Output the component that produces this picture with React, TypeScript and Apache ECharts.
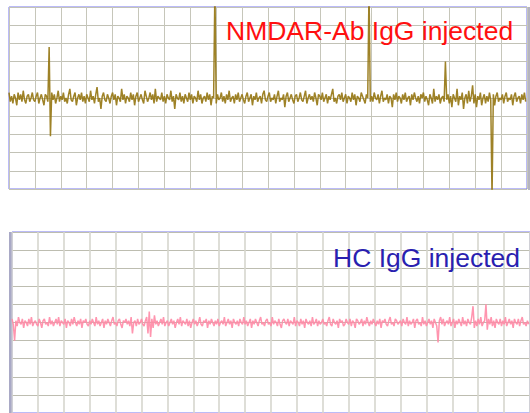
import React, { useEffect, useRef } from "react";
import * as echarts from "echarts";

// EEG-like trace values, in tenths of a grid division (400 samples, 20 per column)
const nmdarTrace: number[] = [
  3,-2,1,-3,2,0,-4,3,-1,2,-2,4,-1,-3,1,2,-2,0,3,-1,
  -2,1,3,-3,0,2,-1,-4,2,1,-2,28,-21,3,-1,2,-3,0,4,-2,
  1,-1,3,-2,0,-3,2,5,-1,-2,1,3,-4,0,2,-1,3,-2,1,-3,
  2,0,-2,4,-1,1,-3,2,6,-2,0,-6,1,3,-1,-2,2,0,-3,1,
  3,-1,2,-4,1,0,-2,5,-1,2,-3,1,0,-2,3,-1,2,-4,1,3,
  -2,0,2,-1,-3,4,1,-2,0,3,-1,2,-3,5,-2,1,0,-1,3,-2,
  1,-3,2,0,-1,4,-2,1,-6,2,0,-1,3,-2,1,-3,2,0,-2,3,
  -1,2,-3,1,0,-2,4,-1,2,-3,0,1,-2,3,-1,2,-4,1,0,60,
  -3,2,-1,0,3,-2,1,-3,2,-1,4,-2,0,1,-3,2,-1,3,-2,0,
  2,-1,-3,1,3,-2,0,2,-4,1,-1,3,-2,0,1,-3,2,4,-1,-2,
  1,3,-2,0,-1,2,-3,1,4,-2,0,-1,2,-5,1,3,-2,0,2,-1,
  -3,1,2,-2,0,3,-1,-2,1,4,-3,0,2,-1,1,-2,3,0,-4,2,
  1,-1,3,-2,0,2,-3,1,-1,2,5,-2,0,-3,1,2,-1,3,-2,0,
  2,-3,1,0,-2,3,-1,2,-4,1,0,-2,3,1,-1,-3,2,0,60,-2,
  1,-2,3,0,-1,2,-3,1,4,-2,0,-1,2,-3,1,0,-5,2,-1,3,
  -2,1,0,-3,2,-1,3,-2,0,1,-4,2,-1,3,0,-2,1,-3,2,0,
  3,-2,1,-1,-4,2,0,-3,5,-2,1,-1,2,-3,0,1,-2,20,-1,2,
  -3,1,-5,2,0,-2,5,-4,1,-1,3,-6,0,2,-3,4,-2,1,7,-3,
  2,-5,1,-1,3,-4,0,2,-3,1,-2,3,-1,-55,2,-4,1,3,-2,0,
  -1,2,-3,1,3,-2,0,-1,2,-4,1,3,-2,0,1,-3,2,-1,3,-2,
];

const hcTrace: number[] = [
  2,-1,-10,1,-2,3,0,-1,2,-3,1,0,-2,2,-1,3,-2,0,1,-1,
  -2,2,0,-3,1,2,-1,0,-2,3,-1,1,-2,0,2,-1,3,-2,1,0,
  -1,2,-3,1,0,-2,2,-1,3,0,-2,1,-1,2,-3,1,0,2,-1,-2,
  1,-1,2,0,-2,3,-1,1,-2,0,2,-3,1,-1,2,0,-2,1,3,-1,
  0,-2,1,2,-1,-3,1,0,2,-1,1,-2,3,-6,0,1,-2,2,-1,0,
  2,-1,-2,1,3,-6,6,-8,2,-3,4,-1,1,-2,0,2,-1,3,-2,0,
  1,-2,0,2,-1,1,-3,0,2,-1,3,-2,1,0,-1,2,-2,1,-3,0,
  2,-1,1,-2,0,3,-1,-2,1,0,2,-3,1,-1,2,0,-2,1,-1,2,
  -2,0,1,-1,3,-2,0,2,-1,1,-3,2,0,-1,1,-2,2,0,-1,3,
  -1,1,-2,0,2,-3,1,-1,2,0,-2,1,3,-1,0,-2,1,2,-1,0,
  -2,3,-1,1,0,-2,2,-1,-3,1,2,0,-1,2,-2,1,0,-1,3,-2,
  1,0,-2,2,-1,1,-3,2,0,-1,1,-2,3,-1,0,2,-2,1,-1,0,
  2,-1,0,-2,1,3,-1,-2,2,0,-1,1,-3,2,0,1,-2,-1,2,0,
  -1,2,-2,1,0,-3,2,1,-1,0,2,-2,1,-1,3,0,-2,1,-1,2,
  0,-2,1,-1,2,-3,1,0,2,-1,-2,1,3,-1,0,-2,2,1,-1,0,
  1,-2,2,0,-1,3,-2,1,-1,0,2,-3,1,2,-1,0,-2,3,-1,1,
  -2,0,2,-1,1,-3,2,0,-2,-11,1,3,-1,2,-2,0,1,-1,3,-2,
  0,2,-3,1,-1,2,0,-2,3,-1,1,-2,2,0,-1,3,9,-3,1,-2,
  2,-1,3,-2,0,1,10,-4,2,-1,3,-2,1,-3,2,0,-1,2,-2,1,
  -1,3,-2,0,2,-1,1,-3,2,0,-1,2,-2,1,3,-1,0,-2,1,-1,
];

const titles: string[] = ["NMDAR-Ab IgG injected", "HC IgG injected"];

const X_MAX = 400;
const X_STEP = 20;
const Y_LIM = 50;
const Y_STEP = 10;

export default function App() {
  const ref = useRef<HTMLDivElement>(null);

  useEffect(() => {
    if (!ref.current) return;
    const chart = echarts.init(ref.current, null, { renderer: "svg" });

    const xAxisBase = (gridIndex: number, lineColor: string, lineWidth: number) => ({
      type: "value" as const,
      gridIndex,
      min: 0,
      max: X_MAX,
      interval: X_STEP,
      axisLabel: { show: false },
      axisTick: { show: false },
      axisLine: { show: false },
      splitLine: { show: true, lineStyle: { color: lineColor, width: lineWidth } },
    });
    const yAxisBase = (gridIndex: number, lineColor: string) => ({
      type: "value" as const,
      gridIndex,
      min: -Y_LIM,
      max: Y_LIM,
      interval: Y_STEP,
      axisLabel: { show: false },
      axisTick: { show: false },
      axisLine: { show: false },
      splitLine: { show: true, lineStyle: { color: lineColor, width: 1 } },
    });

    chart.setOption({
      animation: false,
      backgroundColor: "#ffffff",
      grid: [
        {
          left: 9,
          top: 7,
          width: 518,
          height: 182,
          show: true,
          borderColor: "#7676ee",
          borderWidth: 1,
          backgroundColor: "transparent",
        },
        {
          left: 12,
          top: 232,
          width: 520,
          height: 182,
          show: true,
          borderColor: "#7676ee",
          borderWidth: 1,
          backgroundColor: "transparent",
        },
      ],
      xAxis: [xAxisBase(0, "#c6c6ba", 1), xAxisBase(1, "#d6d6ce", 1.6)],
      yAxis: [yAxisBase(0, "#c2c2b6"), yAxisBase(1, "#bdbdb0")],
      series: [
        {
          type: "line",
          xAxisIndex: 0,
          yAxisIndex: 0,
          data: nmdarTrace.map((v, i) => [i, v]),
          showSymbol: false,
          clip: true,
          lineStyle: { color: "#94740f", width: 1.5, opacity: 0.9 },
          z: 3,
        },
        {
          type: "line",
          xAxisIndex: 1,
          yAxisIndex: 1,
          data: hcTrace.map((v, i) => [i, v]),
          showSymbol: false,
          clip: true,
          lineStyle: { color: "#ff8aa6", width: 1.5, opacity: 0.9 },
          z: 3,
        },
      ],
      graphic: [
        {
          type: "rect",
          shape: { x: 528, y: 7, width: 2, height: 183 },
          style: { fill: "#b4b4c0" },
          z: 1,
        },
        {
          type: "rect",
          shape: { x: 9, y: 232, width: 2.5, height: 181 },
          style: { fill: "#a9a9c6" },
          z: 1,
        },
        {
          type: "text",
          x: 226,
          y: 31,
          style: {
            text: titles[0],
            font: '26.5px "Liberation Sans", Arial, sans-serif',
            fill: "#ff1010",
            textAlign: "left",
            textVerticalAlign: "middle",
          },
          z: 10,
        },
        {
          type: "text",
          x: 333,
          y: 257.5,
          style: {
            text: titles[1],
            font: '26.5px "Liberation Sans", Arial, sans-serif',
            fill: "#2a1fb0",
            textAlign: "left",
            textVerticalAlign: "middle",
          },
          z: 10,
        },
      ],
    });

    return () => chart.dispose();
  }, []);

  return (
    <div
      ref={ref}
      style={{ position: "fixed", left: 0, top: 0, width: 530, height: 413 }}
    />
  );
}
